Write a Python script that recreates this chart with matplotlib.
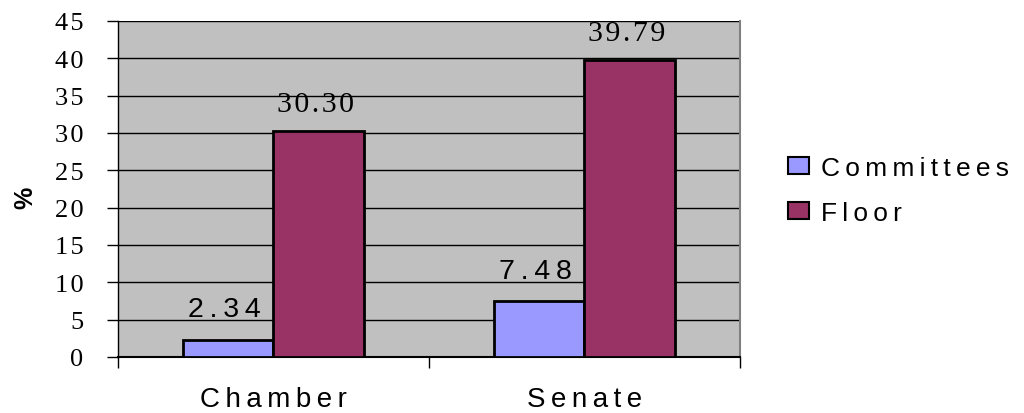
import numpy as np
import matplotlib
matplotlib.use("Agg")
import matplotlib.pyplot as plt
from matplotlib.patches import Patch

chambers = ["Chamber", "Senate"]
series = ["Committees", "Floor"]
committees = [2.34, 7.48]
floor = [30.30, 39.79]
yticks = [0, 5, 10, 15, 20, 25, 30, 35, 40, 45]

SANS = ["Liberation Sans", "DejaVu Sans"]
SERIF = ["Liberation Serif", "DejaVu Serif"]
THIN = "\u2009"
HAIR = "\u200a"


def spaced(s, sep=THIN):
    return sep.join(s)


fig = plt.figure(figsize=(10.24, 4.14), dpi=100)
ax = fig.add_axes([0.1152, 0.1353, 0.6074, 0.8116])
ax.set_facecolor("#C0C0C0")

x = np.arange(len(chambers))
w = 0.29
b1 = ax.bar(x - w / 2, committees, w, color="#9999FF", edgecolor="black",
            linewidth=2, zorder=3, label=series[0])
b2 = ax.bar(x + w / 2, floor, w, color="#993366", edgecolor="black",
            linewidth=2, zorder=3, label=series[1])

# value labels: sans on the short bars, serif on the tall ones
for rect, v in zip(b1, committees):
    ax.annotate(spaced(f"{v:.2f}"), (rect.get_x() + rect.get_width() / 2, v),
                xytext=(-3, 17), textcoords="offset points",
                ha="center", va="baseline", family=SANS, fontsize=20.5)
for rect, v in zip(b2, floor):
    ax.annotate(spaced(f"{v:.2f}", HAIR), (rect.get_x() + rect.get_width() / 2, v),
                xytext=(-2, 14.5), textcoords="offset points",
                ha="center", va="baseline", family=SERIF, fontsize=21.5)

ax.set_xlim(-0.5, 1.5)
ax.set_ylim(0, 45)
ax.set_yticks(yticks)
ax.set_yticklabels([spaced(str(t), HAIR) for t in yticks], family=SERIF, fontsize=19)
ax.yaxis.grid(True, color="black", linewidth=1, zorder=1)
ax.set_axisbelow(True)
ax.tick_params(axis="y", length=8, width=1, pad=17)

ax.set_xticks(x)
ax.set_xticklabels([spaced(c) for c in chambers], family=SANS, fontsize=20)
ax.set_xticks([-0.5, 0.5, 1.5], minor=True)
ax.tick_params(axis="x", which="major", length=0, pad=21)
ax.tick_params(axis="x", which="minor", length=8, width=1)

ax.spines["top"].set_visible(False)
ax.spines["right"].set_color("#808080")
ax.spines["right"].set_linewidth(1.5)
ax.spines["left"].set_linewidth(1)
ax.spines["bottom"].set_linewidth(1.5)

fig.text(25 / 1024, 1 - 198 / 414, "%", rotation=90, ha="center", va="center",
         family=SANS, fontweight="bold", fontsize=18)

handles = [Patch(facecolor="#9999FF", edgecolor="black", linewidth=1.5),
           Patch(facecolor="#993366", edgecolor="black", linewidth=1.5)]
fig.legend(handles, [spaced(s) for s in series],
           loc="center left", bbox_to_anchor=(0.746, 0.538), frameon=False,
           prop=dict(family=SANS, size=19),
           handlelength=0.8, handleheight=0.65, handletextpad=0.45, labelspacing=0.8)

fig.savefig("out.png", dpi=100, facecolor="white")
